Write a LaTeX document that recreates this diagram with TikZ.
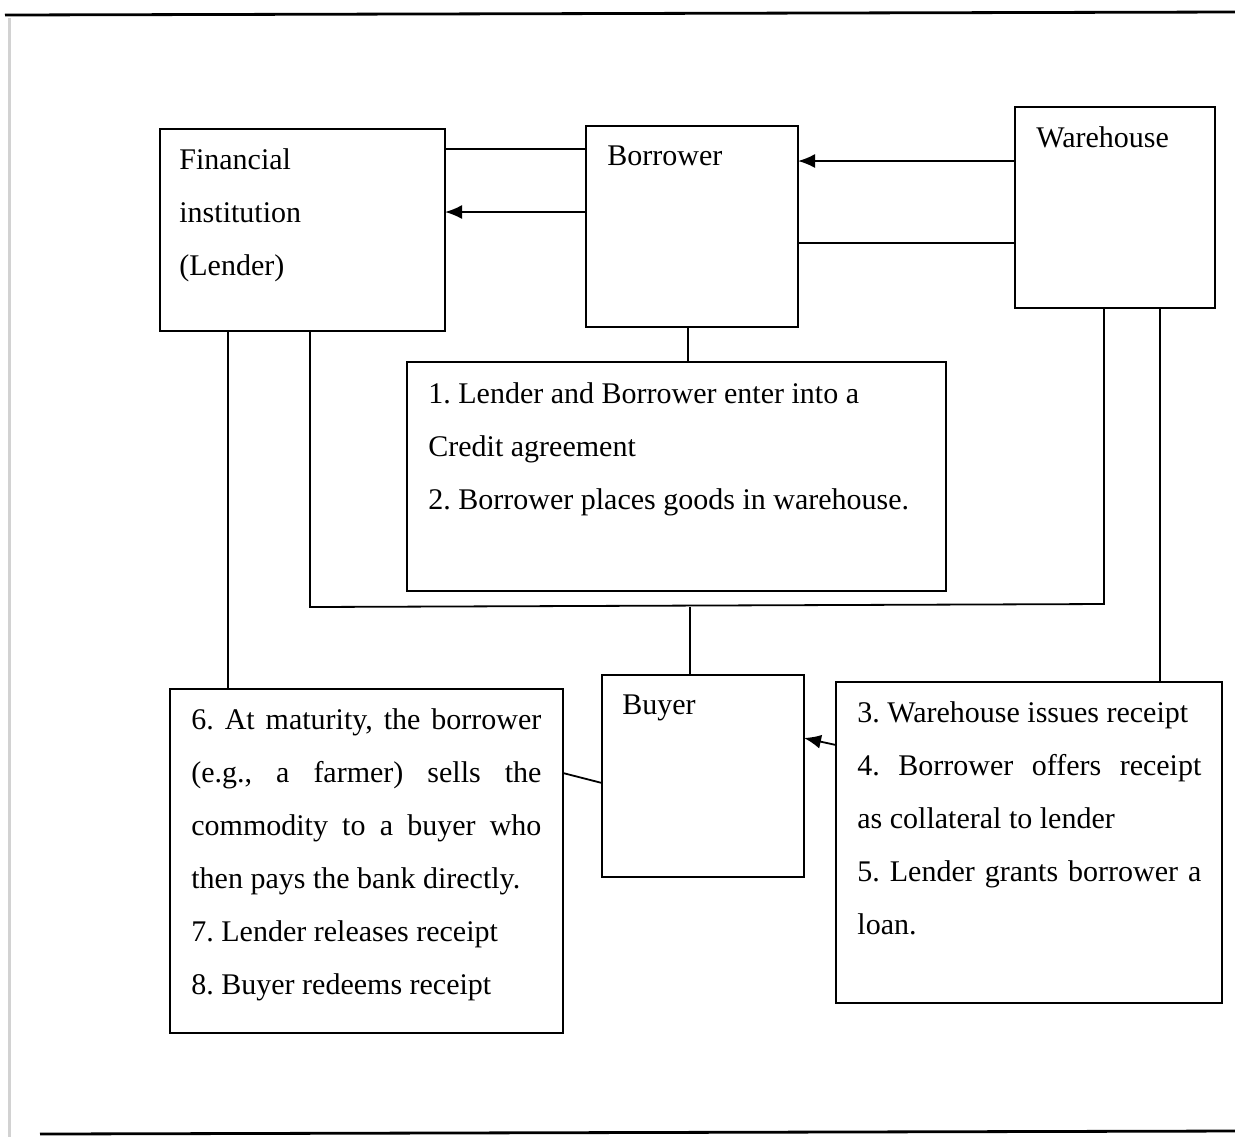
\documentclass[tikz,border=0pt]{standalone}
\usepackage{fontspec}
\setmainfont{Liberation Serif}
\usetikzlibrary{arrows.meta,positioning}

\begin{document}
\begin{tikzpicture}[
                box/.style={
                    draw,
                    line width=1pt,
                    anchor=north west,
                    inner sep=0pt,
                    outer sep=0pt
                },
                txt/.style={
                    inner sep=0pt,
                    font=\fontsize{15}{26.5}\selectfont\frenchspacing
                },
                link/.style={
                    line width=0.9pt
                },
                arr/.style={
                    link,
                    -{Latex[length=8.5pt,width=7pt]}
                },
                x=0.5pt,
                y=-0.5pt
            ]

        \useasboundingbox (0,0) rectangle (1235,1137);

        % page rules
        \draw[line width=1.4pt] (5,15) -- (1235,12);
        \draw[line width=1.4pt] (40,1134) -- (1235,1131);
        \draw[gray!35, line width=1.5pt] (9,18) -- (9,1137);

        % Boxes
        \node[box, minimum width=142.5pt, minimum height=101pt] (lender) at (160,129) {};
        \node[box, minimum width=106pt, minimum height=100.5pt] (borrower) at (586,126) {};
        \node[box, minimum width=100pt, minimum height=100.5pt] (warehouse) at (1015,107) {};
        \node[box, minimum width=269.5pt, minimum height=114.5pt] (steps12) at (407,362) {};
        \node[box, minimum width=101pt, minimum height=101pt] (buyer) at (602,675) {};
        \node[box, minimum width=196.5pt, minimum height=172pt] (steps678) at (170,689) {};
        \node[box, minimum width=193pt, minimum height=160.5pt] (steps345) at (836,682) {};

        % Texts
        \node[txt, align=left, below right=9.5pt and 9.5pt of lender.north west] (lendertxt)
            {Financial\\ institution\\ (Lender)};
        \node[txt, below right=9.5pt and 10.5pt of borrower.north west] (borrowertxt) {Borrower};
        \node[txt, below right=9.5pt and 10.5pt of warehouse.north west] (warehousetxt) {Warehouse};
        \node[txt, align=left, below right=10pt and 10.5pt of steps12.north west] (steps12txt)
            {1. Lender and Borrower enter into a\\
             Credit agreement\\
             2. Borrower places goods in warehouse.};
        \node[txt, below right=9.5pt and 10pt of buyer.north west] (buyertxt) {Buyer};
        \node[txt, text width=175pt, align=justify,
              below right=9.5pt and 10.5pt of steps678.north west] (steps678txt)
            {6. At maturity, the borrower\linebreak
             (e.g., a farmer) sells the\linebreak
             commodity to a buyer who\linebreak
             then pays the bank directly.\\
             7. Lender releases receipt\\
             8. Buyer redeems receipt};
        \node[txt, text width=172pt, align=justify,
              below right=9.5pt and 10.5pt of steps345.north west] (steps345txt)
            {3. Warehouse issues receipt\\
             4. Borrower offers receipt\linebreak
             as collateral to lender\\
             5. Lender grants borrower a\linebreak
             loan.};

        % Lender -- Borrower
        \draw[link] ([yshift=-10pt]lender.north east) -- ([yshift=-10pt]lender.north east -| borrower.west);
        \draw[arr] ([yshift=-41.5pt]lender.north east -| borrower.west) -- ([yshift=-41.5pt]lender.north east);

        % Warehouse -- Borrower
        \draw[arr] ([yshift=-27pt]warehouse.north west) -- ([yshift=-27pt]warehouse.north west -| borrower.east);
        \draw[link] ([yshift=-68pt]warehouse.north west -| borrower.east) -- ([yshift=-68pt]warehouse.north west);

        % Borrower -- steps 1,2
        \draw[link] ([xshift=-2pt]borrower.south) -- ([xshift=-2pt]borrower.south |- steps12.north);

        % Lender -- steps 6-8
        \draw[link] ([xshift=34pt]lender.south west) -- ([xshift=34pt]lender.south west |- steps678.north);

        % Lender -- Warehouse, with Buyer
        \coordinate (busleft) at (310,607);
        \coordinate (busright) at (1104,604);
        \draw[link] (lender.south -| busleft) -- (busleft) -- (busright) -- (busright |- warehouse.south);
        \draw[link] ([xshift=-6.5pt]buyer.north) -- ([xshift=-6.5pt]buyer.north |- busleft);

        % Warehouse -- steps 3-5
        \draw[link] ([xshift=72.5pt]warehouse.south west) -- ([xshift=72.5pt]warehouse.south west |- steps345.north);

        % steps -- Buyer
        \draw[link] ([yshift=-42pt]steps678.north east) -- ([yshift=-54pt]buyer.north west);
        \draw[arr] ([yshift=-31.5pt]steps345.north west) -- ([yshift=-31.5pt]buyer.north east);

            \end{tikzpicture}
\end{document}
